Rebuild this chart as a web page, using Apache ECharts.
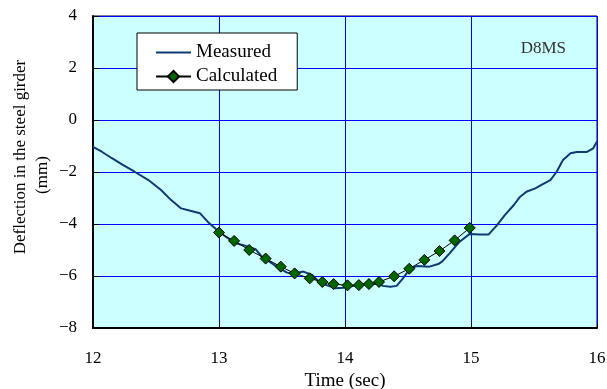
<!DOCTYPE html>
<html>
<head>
<meta charset="utf-8">
<script src="https://cdn.jsdelivr.net/npm/echarts@6/dist/echarts.min.js"></script>
<style>
  html, body { margin: 0; padding: 0; background: #fff; }
  #chart { width: 607px; height: 389px; }
</style>
</head>
<body>
<div id="chart"></div>
<script>
// measured deflection trace (time in sec, deflection in mm)
const measuredTime = [12.00, 12.07, 12.15, 12.23, 12.33, 12.44, 12.54, 12.62, 12.70, 12.78, 12.85, 12.91,
  13.00, 13.12, 13.22, 13.29, 13.34, 13.40, 13.48, 13.54, 13.59, 13.67, 13.74, 13.80, 13.87, 13.92, 13.99,
  14.07, 14.17, 14.28, 14.30, 14.36, 14.41, 14.46, 14.52, 14.57, 14.67, 14.74, 14.77, 14.83, 14.91, 14.99,
  15.07, 15.14, 15.20, 15.27, 15.34, 15.39, 15.44, 15.51, 15.57, 15.63, 15.68, 15.73, 15.79, 15.84, 15.92, 15.97, 16.00];
const measuredValue = [-1.03, -1.22, -1.47, -1.71, -1.99, -2.31, -2.69, -3.08, -3.40, -3.50, -3.59, -3.91,
  -4.30, -4.72, -4.85, -4.97, -5.26, -5.45, -5.71, -5.87, -5.90, -5.83, -5.96, -6.26, -6.38, -6.47, -6.45,
  -6.38, -6.31, -6.31, -6.38, -6.41, -6.38, -6.09, -5.70, -5.62, -5.64, -5.54, -5.45, -5.13, -4.68, -4.38,
  -4.40, -4.40, -4.08, -3.65, -3.27, -2.95, -2.76, -2.63, -2.47, -2.31, -1.99, -1.54, -1.28, -1.23, -1.23, -1.09, -0.83];

// calculated points
const calcTime = [13.00, 13.12, 13.24, 13.37, 13.49, 13.60, 13.72, 13.82, 13.91, 14.02, 14.11, 14.19, 14.27,
  14.39, 14.51, 14.63, 14.75, 14.87, 14.99];
const calcValue = [-4.33, -4.65, -5.00, -5.33, -5.64, -5.90, -6.09, -6.23, -6.31, -6.36, -6.35, -6.31, -6.23,
  -6.01, -5.72, -5.38, -5.04, -4.63, -4.15];

const xTicks = [12, 13, 14, 15, 16];
const yTicks = [-8, -6, -4, -2, 0, 2, 4];

const serif = '"Liberation Serif", "DejaVu Serif", serif';
const navy = '#0d3a73';

const chart = echarts.init(document.getElementById('chart'));

chart.setOption({
  animation: false,
  backgroundColor: '#ffffff',
  textStyle: { fontFamily: serif },
  grid: {
    left: 93,
    right: 10,
    top: 16,
    bottom: 61,
    outerBoundsMode: 'none',
    show: true,
    backgroundColor: '#ccffff',
    borderColor: '#000033',
    borderWidth: 1
  },
  legend: {
    orient: 'vertical',
    left: 137,
    top: 33,
    padding: [10, 20, 4, 18],
    itemWidth: 35,
    itemHeight: 14,
    itemGap: 5,
    backgroundColor: '#ffffff',
    borderColor: '#000000',
    borderWidth: 1,
    textStyle: { fontFamily: serif, fontSize: 19, color: '#000' },
    data: [
      { name: 'Measured', icon: 'path://M0,0 L35,0 L35,2 L0,2 Z', itemStyle: { color: navy } },
      'Calculated'
    ]
  },
  xAxis: {
    type: 'value',
    min: xTicks[0],
    max: xTicks[xTicks.length - 1],
    interval: 1,
    name: 'Time (sec)',
    nameLocation: 'middle',
    nameGap: 41,
    nameTextStyle: { fontFamily: serif, fontSize: 19, color: '#000' },
    axisLine: { onZero: false, lineStyle: { color: '#000', width: 2 } },
    axisTick: { inside: true, length: 5, lineStyle: { color: '#000' } },
    axisLabel: { fontFamily: serif, fontSize: 17, color: '#000', margin: 22 },
    splitLine: { show: true, lineStyle: { color: '#0000ff', width: 1 } }
  },
  yAxis: {
    type: 'value',
    min: yTicks[0],
    max: yTicks[yTicks.length - 1],
    interval: 2,
    axisLine: { show: true, onZero: false, lineStyle: { color: '#000', width: 2 } },
    axisTick: { show: true, inside: true, length: 6, lineStyle: { color: '#000' } },
    axisLabel: {
      fontFamily: serif, fontSize: 17, color: '#000', margin: 16,
      formatter: v => String(v).replace('-', '\u2212')
    },
    splitLine: { show: true, lineStyle: { color: '#0000ff', width: 1 } }
  },
  graphic: [
    {
      type: 'text',
      x: 21, y: 157,
      rotation: Math.PI / 2,
      style: {
        text: 'Deflection in the steel girder',
        font: '17px ' + serif,
        fill: '#000',
        textAlign: 'center',
        textVerticalAlign: 'middle'
      }
    },
    {
      type: 'text',
      x: 43, y: 175,
      rotation: Math.PI / 2,
      style: {
        text: '(mm)',
        font: '17px ' + serif,
        fill: '#000',
        textAlign: 'center',
        textVerticalAlign: 'middle'
      }
    },
    {
      type: 'text',
      x: 566, y: 49,
      style: {
        text: 'D8MS',
        font: '17px ' + serif,
        fill: '#333',
        textAlign: 'right',
        textVerticalAlign: 'middle'
      }
    }
  ],
  series: [
    {
      name: 'Measured',
      type: 'line',
      showSymbol: false,
      symbol: 'none',
      lineStyle: { color: navy, width: 2 },
      itemStyle: { color: navy },
      data: measuredTime.map((t, i) => [t, measuredValue[i]]),
      z: 2
    },
    {
      name: 'Calculated',
      type: 'line',
      symbol: 'diamond',
      symbolSize: 11,
      lineStyle: { color: '#000', width: 1 },
      itemStyle: { color: '#006600', borderColor: '#000', borderWidth: 1 },
      data: calcTime.map((t, i) => [t, calcValue[i]]),
      z: 3
    }
  ]
});
</script>
</body>
</html>
